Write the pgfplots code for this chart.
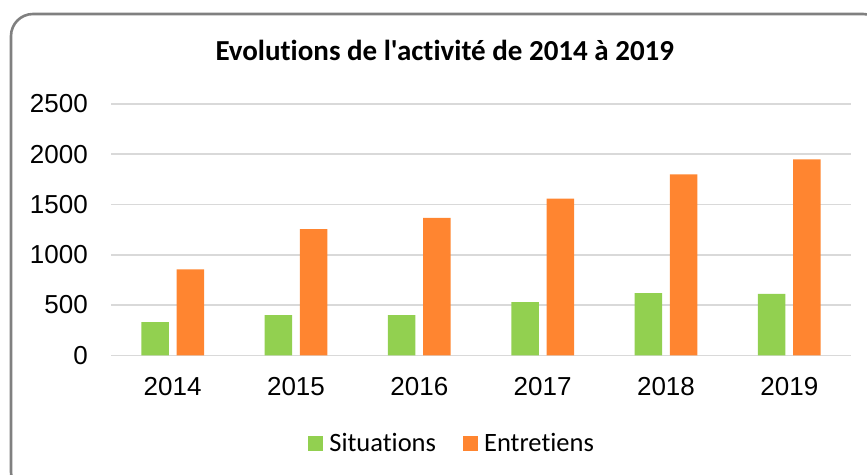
\documentclass[border=0pt]{standalone}
\usepackage{pgfplots}
\pgfplotsset{compat=1.18}
\usepackage{fontspec}
\setmainfont{Liberation Sans}
\newfontfamily\calibri[Ligatures=NoCommon]{Carlito}
\definecolor{cgreen}{RGB}{146,208,80}
\definecolor{corange}{RGB}{255,133,48}
\definecolor{cgrid}{RGB}{217,217,217}
\definecolor{cframe}{RGB}{128,128,128}
\begin{document}
\begin{tikzpicture}[x=1pt,y=1pt]
\path[use as bounding box] (0,0) rectangle (867,474);
\begin{scope}
\clip (0,0) rectangle (867,474);
\draw[cframe, line width=2.6pt, rounded corners=22pt] (11,460) rectangle (885,-20);
\end{scope}
\begin{axis}[
  at={(111pt,118.7pt)}, anchor=south west,
  scale only axis, width=740pt, height=251.3pt,
  xmin=-0.5, xmax=5.5, ymin=0, ymax=2500,
  ybar=7.7pt, bar width=27.5pt,
  xtick=data, xticklabels={2014,2015,2016,2017,2018,2019},
  ytick={0,500,1000,1500,2000,2500},
  ymajorgrids, grid style={cgrid, line width=1.6pt},
  axis line style={draw=none},
  major tick length=0pt,
  /pgf/number format/assume math mode=true,
  /pgf/number format/1000 sep={},
  ticklabel style={font=\fontsize{26}{30}\selectfont},
  yticklabel style={inner sep=0pt, xshift=-23pt},
  xticklabel style={inner sep=0pt, yshift=-22pt},
  title={Evolutions de l'activité de 2014 à 2019},
  title style={font=\calibri\bfseries\fontsize{29}{34}\selectfont, at={(0.451,1.15)}, anchor=base, inner sep=0pt},
  legend columns=2,
  legend style={draw=none, at={(0.461,-0.349)}, anchor=center,
    font=\calibri\fontsize{26.5}{30}\selectfont,
    /tikz/every even column/.append style={column sep=25pt},
    cells={anchor=west}},
  legend image code/.code={\fill[#1] (0pt,-7.5pt) rectangle (15pt,7.5pt); \path (19pt,0pt);},
]
\addplot[fill=cgreen, draw=none] coordinates {(0,331) (1,400) (2,400) (3,529) (4,619) (5,612)};
\addplot[fill=corange, draw=none] coordinates {(0,854) (1,1254) (2,1367) (3,1559) (4,1800) (5,1949)};
\legend{Situations, Entretiens}
\end{axis}
\end{tikzpicture}
\end{document}
